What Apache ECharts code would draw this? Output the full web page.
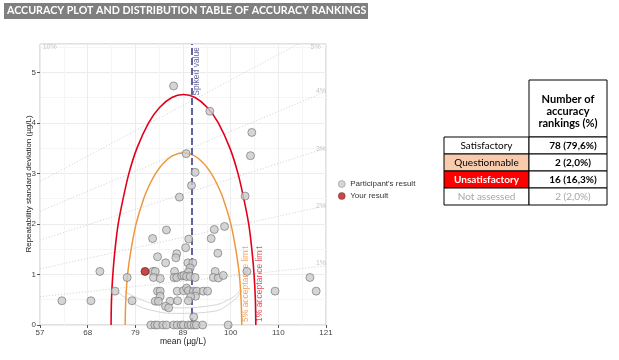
<!DOCTYPE html>
<html><head><meta charset="utf-8">
<script src="https://cdn.jsdelivr.net/npm/echarts@6/dist/echarts.min.js"></script>
<style>html,body{margin:0;padding:0;background:#fff}#c{width:619px;height:360px}</style>
</head><body><div id="c"></div>
<script>
// ---------- data ----------
const chartTitle = 'ACCURACY PLOT AND DISTRIBUTION TABLE OF ACCURACY RANKINGS';
const xTickLabels = ['57', '68', '79', '89', '100', '110', '121'];
const xName = 'mean (µg/L)';
const yName = 'Repeatability standard deviation (µg/L)';
const spikedValue = 90.9;

const participantMean = [86.9, 95.0, 104.4, 104.1, 89.7, 91.7, 90.9, 88.2, 102.9,
  85.3, 82.2, 90.3, 95.3, 96.0, 98.3, 89.6, 96.8, 87.6, 83.3, 87.4,
  85.1, 90.1, 91.2, 90.6, 70.4, 82.3, 82.8, 87.1, 96.2, 103.3, 90.2,
  82.4, 83.9, 76.5, 87.0, 87.6, 88.7, 89.2, 89.8, 90.6, 91.7, 95.8, 96.9, 98.0, 117.4,
  73.8, 83.3, 83.9, 87.7, 89.1, 89.8, 90.2, 91.3, 92.1, 93.5, 94.5, 109.6, 118.8,
  83.9, 91.8, 90.7,
  61.9, 68.4, 77.6, 82.8, 83.5, 86.1, 87.8, 90.2,
  85.1, 85.8, 91.4,
  81.8, 82.7, 83.3, 84.5, 85.3, 86.9, 87.7, 88.6, 89.1, 90.2, 90.8, 91.5, 92.0, 93.4, 99.1];
const participantSD = [4.73, 4.23, 3.81, 3.35, 3.39, 3.02, 2.76, 2.53, 2.55,
  1.88, 1.71, 1.70, 1.71, 1.89, 1.95, 1.53, 1.42, 1.41, 1.35, 1.33,
  1.23, 1.23, 1.23, 1.13, 1.06, 1.06, 1.06, 1.06, 1.06, 1.06, 1.05,
  0.94, 0.92, 0.94, 0.94, 0.94, 0.97, 0.98, 0.96, 0.96, 0.94, 0.94, 0.93, 0.98, 0.94,
  0.67, 0.67, 0.67, 0.67, 0.68, 0.73, 0.68, 0.67, 0.67, 0.67, 0.67, 0.67, 0.67,
  0.57, 0.57, 0.56,
  0.48, 0.48, 0.48, 0.47, 0.47, 0.47, 0.48, 0.48,
  0.37, 0.34, 0.16,
  0, 0, 0, 0, 0, 0, 0, 0, 0, 0, 0, 0, 0, 0, 0];
const yourMean = [80.5];
const yourSD = [1.06];

const limit1Mean = [72.9, 73.0, 73.3, 73.8, 74.5, 75.6, 76.9, 78.7, 81.3, 83.7, 86.5, 89.1, 91.7, 94.5, 96.9, 99.5, 101.3, 102.6, 103.7, 104.4, 104.9, 105.2, 105.3];
const limit1SD = [0, 0.5, 1.0, 1.5, 2.0, 2.5, 3.0, 3.5, 4.0, 4.3, 4.5, 4.56, 4.5, 4.3, 4.0, 3.5, 3.0, 2.5, 2.0, 1.5, 1.0, 0.5, 0];
const limit5Mean = [76.05, 76.2, 76.6, 77.4, 78.5, 80.2, 81.65, 82.9, 84.6, 86.7, 89.1, 91.5, 93.6, 95.3, 96.55, 98.0, 99.7, 100.8, 101.6, 102.0, 102.15];
const limit5SD = [0, 0.5, 1.0, 1.5, 2.0, 2.5, 2.8, 3.0, 3.2, 3.35, 3.41, 3.35, 3.2, 3.0, 2.8, 2.5, 2.0, 1.5, 1.0, 0.5, 0];
const grayOuterMean = [73.4, 76.7, 81.6, 88.3, 95.0, 100.0, 102.2];
const grayOuterSD = [0.74, 0.5, 0.3, 0.23, 0.26, 0.46, 0.7];
const grayInnerMean = [76.0, 81.6, 88.3, 95.0, 100.0, 101.8];
const grayInnerSD = [0.66, 0.44, 0.34, 0.38, 0.54, 0.7];

const cvNames = ['1%', '2%', '3%', '4%', '5%'];
const cvStartSD = [0.56, 1.11, 1.68, 2.25, 2.84];   // at mean 57
const cvEndSD = [1.17, 2.36, 3.5, 4.62, 5.85];      // at mean 121
const cvLabelText = ['1%', '2%', '3%', '4%', '5%', '10%'];
const cvLabelMean = [121, 121, 121, 121, 119.8, 57.6];
const cvLabelSD = [1.22, 2.36, 3.48, 4.62, 5.5, 5.5];

const tableHeader = ['Number of', 'accuracy', 'rankings (%)'];
const tableCategories = ['Satisfactory', 'Questionnable', 'Unsatisfactory', 'Not assessed'];
const tableValues = ['78 (79,6%)', '2 (2,0%)', '16 (16,3%)', '2 (2,0%)'];
const legendNames = ["Participant's result", 'Your result'];

// ---------- chart ----------
const zip = (a, b) => a.map((v, i) => [v, b[i]]);
const chart = echarts.init(document.getElementById('c'), null, {renderer: 'canvas'});
const F = 'Liberation Sans, Arial, sans-serif';

const series = [];
cvNames.forEach((n, i) => {
  series.push({type: 'line', name: 'cv' + n, data: [[57, cvStartSD[i]], [121, cvEndSD[i]]],
    showSymbol: false, silent: true, z: 1,
    lineStyle: {color: '#cfcfcf', width: 1, type: [1, 2]}});
});
series.push({type: 'scatter', name: 'cvlabels', silent: true, z: 1, symbolSize: 0,
  data: cvLabelText.map((t, i) => ({value: [cvLabelMean[i], cvLabelSD[i]], label: {formatter: t, align: i === 5 ? 'left' : 'right'}})),
  label: {show: true, position: 'inside', color: '#b8b8b8', fontSize: 7, fontFamily: F}});
series.push({type: 'line', name: 'grayOuter', data: zip(grayOuterMean, grayOuterSD), smooth: 0.5, showSymbol: false, z: 2,
  lineStyle: {color: '#d6d6d6', width: 1}});
series.push({type: 'line', name: 'grayInner', data: zip(grayInnerMean, grayInnerSD), smooth: 0.5, showSymbol: false, z: 2,
  lineStyle: {color: '#d6d6d6', width: 1}});
series.push({type: 'line', name: 'limit5', data: zip(limit5Mean, limit5SD), smooth: 0.3, showSymbol: false, z: 3,
  lineStyle: {color: '#f0973c', width: 1.5}});
series.push({type: 'line', name: 'limit1', data: zip(limit1Mean, limit1SD), smooth: 0.3, showSymbol: false, z: 3,
  lineStyle: {color: '#e3001b', width: 1.6},
  markLine: {silent: true, symbol: 'none', label: {show: false},
    lineStyle: {color: '#62629e', width: 2, type: [7, 3]}, data: [{xAxis: spikedValue}]}});
series.push({type: 'scatter', name: legendNames[0], data: zip(participantMean, participantSD), z: 5,
  symbolSize: 8, itemStyle: {color: '#cacaca', borderColor: '#6e6e6e', borderWidth: 0.8}});
series.push({type: 'scatter', name: legendNames[1], data: zip(yourMean, yourSD), z: 6,
  symbolSize: 8, itemStyle: {color: '#b51d1d', borderColor: '#6b0e0e', borderWidth: 0.8}});

// table graphics
const tl = 444, tm = 529, tr = 607, hTop = 80, rTop = 137, rh = 17;
const tableG = [];
tableG.push({type: 'rect', shape: {x: tm, y: hTop, width: tr - tm, height: rTop - hTop}, style: {fill: '#fff', stroke: '#000', lineWidth: 1}});
tableHeader.forEach((t, i) => tableG.push({type: 'text', style: {text: t, x: (tm + tr) / 2, y: 99 + i * 12.3, align: 'center', verticalAlign: 'middle', fill: '#000', fontSize: 11, fontWeight: 'bold', fontFamily: 'Lato, ' + F}}));
const rowFill = ['#ffffff', '#f8cbad', '#ff0000', '#ffffff'];
const catColor = ['#000', '#000', '#fff', '#a6a6a6'];
const valColor = ['#000', '#000', '#000', '#a6a6a6'];
tableCategories.forEach((c, i) => {
  const y = rTop + i * rh;
  tableG.push({type: 'rect', shape: {x: tl, y: y, width: tm - tl, height: rh}, style: {fill: rowFill[i], stroke: '#000', lineWidth: 1}});
  tableG.push({type: 'rect', shape: {x: tm, y: y, width: tr - tm, height: rh}, style: {fill: '#fff', stroke: '#000', lineWidth: 1}});
  tableG.push({type: 'text', style: {text: c, x: (tl + tm) / 2, y: y + rh / 2 + 0.5, align: 'center', verticalAlign: 'middle', fill: catColor[i], fontSize: 10, fontWeight: i === 2 ? 'bold' : 'normal', fontFamily: 'Lato, ' + F}});
  tableG.push({type: 'text', style: {text: tableValues[i], x: 573, y: y + rh / 2 + 0.5, align: 'center', verticalAlign: 'middle', fill: valColor[i], fontSize: 10, fontWeight: i === 3 ? 'normal' : 'bold', fontFamily: 'Lato, ' + F}});
});

const option = {
  animation: false,
  backgroundColor: '#fff',
  grid: {left: 40, right: 293, top: 44, bottom: 35, show: true, borderColor: '#c4c4c4', borderWidth: 1},
  legend: {data: legendNames, orient: 'vertical', left: 338, top: 180, itemWidth: 7, itemHeight: 7, itemGap: 4, padding: 0,
    itemStyle: {borderWidth: 0.5}, textStyle: {fontSize: 8, fontFamily: F, color: '#333'}},
  xAxis: {type: 'value', min: 57, max: 121, interval: 64 / 6,
    axisLine: {show: false}, axisTick: {show: true, length: 3, lineStyle: {color: '#555'}},
    axisLabel: {fontSize: 8, fontFamily: F, color: '#444', margin: 4, showMinLabel: true, showMaxLabel: true,
      formatter: (v, i) => xTickLabels[Math.round((v - 57) / (64 / 6))]},
    splitLine: {show: true, lineStyle: {color: '#ececec', width: 1}},
    minorTick: {show: false, splitNumber: 2}, minorSplitLine: {show: true, lineStyle: {color: '#f5f5f5', width: 1}}},
  yAxis: {type: 'value', min: 0, max: 5.56, interval: 1,
    axisLine: {show: false}, axisTick: {show: true, length: 3, lineStyle: {color: '#555'}},
    axisLabel: {fontSize: 8, fontFamily: F, color: '#444', margin: 4, showMaxLabel: false},
    splitLine: {show: true, lineStyle: {color: '#ececec', width: 1}},
    minorTick: {show: false, splitNumber: 2}, minorSplitLine: {show: true, lineStyle: {color: '#f5f5f5', width: 1}}},
  series: series,
  graphic: [
    {type: 'rect', shape: {x: 4, y: 3, width: 364, height: 16}, style: {fill: '#7f7f7f'}},
    {type: 'text', style: {text: chartTitle, x: 7, y: 11, verticalAlign: 'middle', fill: '#fff', fontSize: 10.7, fontWeight: 'bold', fontFamily: 'Lato, ' + F}},
    {type: 'text', x: 29, y: 184, rotation: Math.PI / 2, style: {text: yName, align: 'center', verticalAlign: 'middle', fill: '#222', fontSize: 8, fontFamily: F}},
    {type: 'text', style: {text: xName, x: 183, y: 342, align: 'center', verticalAlign: 'middle', fill: '#222', fontSize: 8.5, fontFamily: F}},
    {type: 'text', x: 197, y: 47, rotation: Math.PI / 2, style: {text: 'Spiked value', align: 'right', verticalAlign: 'middle', fill: '#62629e', fontSize: 8.5, fontFamily: F}},
    {type: 'text', x: 246, y: 322, rotation: Math.PI / 2, style: {text: '5% acceptance limit', align: 'left', verticalAlign: 'middle', fill: '#f3a462', fontSize: 8.5, fontFamily: F}},
    {type: 'text', x: 260, y: 322, rotation: Math.PI / 2, style: {text: '1% acceptance limit', align: 'left', verticalAlign: 'middle', fill: '#e5505c', fontSize: 8.5, fontFamily: F}},
    {type: 'group', children: tableG}
  ]
};
chart.setOption(option);
</script></body></html>
